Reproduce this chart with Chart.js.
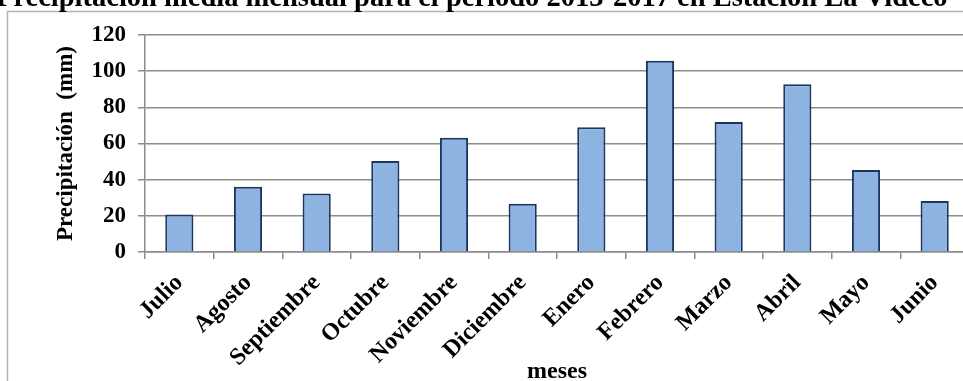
<!DOCTYPE html>
<html>
<head>
<meta charset="utf-8">
<script src="https://cdn.jsdelivr.net/npm/chart.js@4/dist/chart.umd.min.js"></script>
<style>
  html, body { margin: 0; padding: 0; background: #fff; overflow: hidden; width: 963px; height: 381px; }
  #wrap { position: absolute; left: 0; top: 0; width: 1000px; height: 381px; }
</style>
</head>
<body>
<div id="wrap"><canvas id="c" width="1000" height="381"></canvas></div>
<script>
// Monthly mean precipitation (mm), July through June
const meses = ['Julio', 'Agosto', 'Septiembre', 'Octubre', 'Noviembre', 'Diciembre',
               'Enero', 'Febrero', 'Marzo', 'Abril', 'Mayo', 'Junio'];
const precipitacion = [20.8, 36.1, 32.4, 50.3, 63.2, 26.7, 69.0, 105.8, 71.9, 92.7, 45.4, 28.2];
const yTicks = [0, 20, 40, 60, 80, 100, 120];

const tituloGrafico = 'Precipitación media mensual para el periodo 2013-2017 en Estación La Videco';
const tituloY = 'Precipitación  (mm)';
const tituloX = 'meses';

const serif = "'Liberation Serif', 'Times New Roman', serif";

// Outer frame of the chart and the heading above it
const marco = {
  id: 'marco',
  beforeDraw(chart) {
    const ctx = chart.ctx;
    ctx.save();
    ctx.fillStyle = '#ffffff';
    ctx.fillRect(0, 0, chart.width, chart.height);
    ctx.strokeStyle = '#b4b4b4';
    ctx.lineWidth = 1.5;
    ctx.strokeRect(7.5, 11.5, chart.width + 20, chart.height + 20);
    ctx.fillStyle = '#000';
    ctx.font = 'bold 28.5px ' + serif;
    ctx.textAlign = 'left';
    ctx.textBaseline = 'alphabetic';
    ctx.fillText(tituloGrafico, -4, 6);
    ctx.restore();
  }
};

new Chart(document.getElementById('c'), {
  type: 'bar',
  data: {
    labels: meses,
    datasets: [{
      data: precipitacion,
      backgroundColor: '#8db3e2',
      borderColor: '#1c365e',
      borderWidth: 2,
      barPercentage: 0.41,
      categoryPercentage: 1.0
    }]
  },
  options: {
    responsive: false,
    animation: false,
    layout: { padding: { left: 0, right: 31, top: 35, bottom: 0 } },
    plugins: { legend: { display: false }, tooltip: { enabled: false } },
    scales: {
      y: {
        min: 0, max: 120,
        afterBuildTicks(scale) { scale.ticks = yTicks.map(v => ({ value: v })); },
        afterFit(scale) { scale.width = 145; },
        border: { color: '#8c8c8c', width: 1.5 },
        grid: { color: '#8c8c8c', lineWidth: 1.5, tickLength: 7, drawTicks: true },
        ticks: {
          color: '#000', padding: 12,
          font: { family: serif, size: 23, weight: 'bold' }
        },
        title: {
          display: true, text: tituloY, color: '#000',
          font: { family: serif, size: 23, weight: 'bold', lineHeight: 1 },
          padding: { top: 55, bottom: 0 }
        }
      },
      x: {
        afterFit(scale) { scale.height = 129; },
        border: { color: '#8c8c8c', width: 1.5 },
        grid: { color: '#8c8c8c', lineWidth: 1.5, drawOnChartArea: false, tickLength: 7, offset: true },
        ticks: {
          color: '#000', maxRotation: 45, minRotation: 45, padding: 10,
          font: { family: serif, size: 24, weight: 'bold' }
        },
        title: {
          display: true, text: tituloX, color: '#000',
          font: { family: serif, size: 24, weight: 'bold', lineHeight: 0.75 },
          padding: { top: 0, bottom: 0 }
        }
      }
    }
  },
  plugins: [marco]
});
</script>
</body>
</html>
